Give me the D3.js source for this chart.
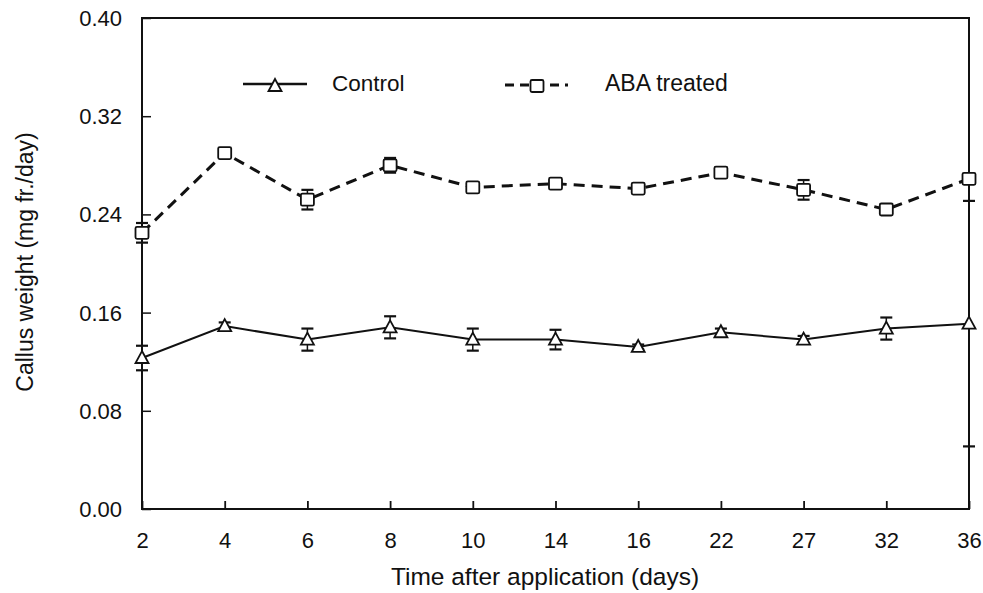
<!DOCTYPE html>
<html><head><meta charset="utf-8">
<script src="https://cdn.jsdelivr.net/npm/d3@7"></script>
<style>body{margin:0;background:#fff}svg{font-family:"Liberation Sans",Arial,sans-serif}</style>
</head><body><svg id="c" width="983" height="593"></svg>
<script>
const days = ["2","4","6","8","10","14","16","22","27","32","36"];
const controlVals = [0.123,0.149,0.138,0.148,0.138,0.138,0.132,0.144,0.138,0.147,0.151];
const controlErr  = [0.010,0.003,0.009,0.009,0.009,0.008,0.002,0.003,0.003,0.009,0.100];
const abaVals = [0.225,0.290,0.252,0.280,0.262,0.265,0.261,0.274,0.260,0.244,0.269];
const abaErr  = [0.008,0.003,0.008,0.006,0.003,0.003,0.003,0.003,0.008,0.003,0.004];
const yTicks = [0.00,0.08,0.16,0.24,0.32,0.40];

const svg = d3.select("#c");
const L=142,R=969,T=18,B=509;
const x = d3.scalePoint().domain(days).range([L,R]).padding(0);
const y = d3.scaleLinear().domain([0,0.4]).range([B,T]);
const FF = "'Liberation Sans',Arial,sans-serif";

// frame
svg.append("rect").attr("x",L).attr("y",T).attr("width",R-L).attr("height",B-T)
  .attr("fill","none").attr("stroke","#111").attr("stroke-width",2);

// x axis
const gx = svg.append("g").attr("transform",`translate(0,${B})`)
  .call(d3.axisBottom(x).tickSize(-8).tickPadding(23).tickSizeOuter(0));
gx.attr("font-family",FF).attr("font-size",22);
gx.select(".domain").remove();
gx.selectAll(".tick line").attr("stroke","#111").attr("stroke-width",1.8);
gx.selectAll(".tick text").attr("fill","#111");

// y axis
const gy = svg.append("g").attr("transform",`translate(${L},0)`)
  .call(d3.axisLeft(y).tickValues(yTicks).tickFormat(d3.format(".2f")).tickSize(-9).tickPadding(20).tickSizeOuter(0));
gy.attr("font-family",FF).attr("font-size",22);
gy.select(".domain").remove();
gy.selectAll(".tick line").attr("stroke","#111").attr("stroke-width",1.5);
gy.selectAll(".tick text").attr("fill","#111").attr("dy","0.34em");

svg.append("text").attr("x",545).attr("y",585).attr("text-anchor","middle")
  .attr("font-size",24.5).attr("fill","#111").text("Time after application (days)");
svg.append("text").attr("transform",`translate(33,262) rotate(-90)`).attr("text-anchor","middle")
  .attr("font-size",23).attr("fill","#111").text("Callus weight (mg fr./day)");

function series(vals, errs, dash, width, marker){
  const data = days.map((d,i)=>({d,v:vals[i],e:errs[i]}));
  const g = svg.append("g");
  data.forEach(p=>{
    const cx=x(p.d);
    g.append("line").attr("x1",cx).attr("x2",cx).attr("y1",y(p.v-p.e)).attr("y2",y(p.v+p.e)).attr("stroke","#111").attr("stroke-width",1.5);
    [p.v-p.e,p.v+p.e].forEach(v=>g.append("line").attr("x1",cx-6).attr("x2",cx+6).attr("y1",y(v)).attr("y2",y(v)).attr("stroke","#111").attr("stroke-width",2.2));
  });
  g.append("path").datum(data).attr("fill","none").attr("stroke","#111").attr("stroke-width",width)
    .attr("stroke-dasharray",dash).attr("d",d3.line().x(p=>x(p.d)).y(p=>y(p.v)));
  data.forEach(p=>marker(g,x(p.d),y(p.v)));
}
function tri(g,cx,cy){
  g.append("path").attr("d",`M${cx},${cy-7}L${cx+6.5},${cy+5}L${cx-6.5},${cy+5}Z`)
   .attr("fill","#fff").attr("stroke","#111").attr("stroke-width",1.8);
}
function sq(g,cx,cy){
  g.append("rect").attr("x",cx-6.5).attr("y",cy-6).attr("width",13).attr("height",12).attr("rx",1.5)
   .attr("fill","#fff").attr("stroke","#111").attr("stroke-width",1.8);
}
series(controlVals,controlErr,null,2,tri);
series(abaVals,abaErr,"11,7",3,sq);

// legend
const lg = svg.append("g");
lg.append("line").attr("x1",243).attr("x2",307).attr("y1",84).attr("y2",84).attr("stroke","#111").attr("stroke-width",2.5);
tri(lg,275,86);
lg.append("text").attr("x",332).attr("y",91).attr("font-size",22.5).attr("fill","#111").text("Control");
lg.append("line").attr("x1",505).attr("x2",568).attr("y1",85).attr("y2",85).attr("stroke","#111").attr("stroke-width",3).attr("stroke-dasharray","9,6");
sq(lg,537,86);
lg.append("text").attr("x",605).attr("y",91).attr("font-size",23).attr("fill","#111").text("ABA treated");
</script></body></html>
